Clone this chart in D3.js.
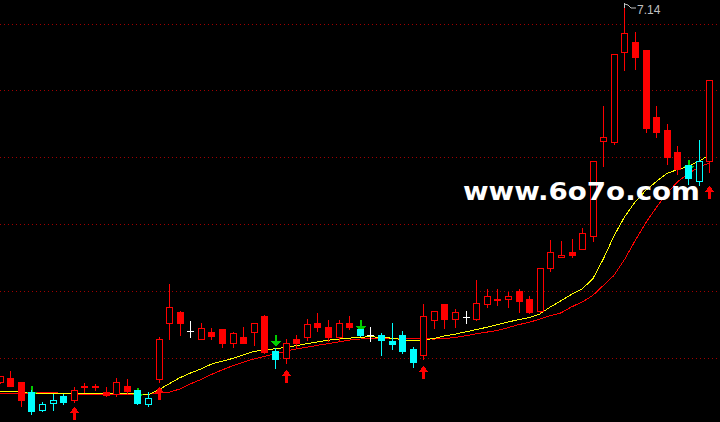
<!DOCTYPE html>
<html><head><meta charset="utf-8">
<script src="https://cdn.jsdelivr.net/npm/d3@7"></script>
<style>html,body{margin:0;padding:0;background:#000;overflow:hidden}</style>
</head><body><svg id="c" width="720" height="422"></svg>
<script>
// ---- data (prices) ----
const open  = [4.32,4.35,4.32,4.24,4.11,4.16,4.21,4.18,4.29,4.29, 4.24,4.23,4.29,4.26,4.15,4.34,4.76,4.84,4.70,4.64, 4.69,4.71,4.61,4.65,4.69,4.81,4.55,4.50,4.64,4.65, 4.76,4.73,4.65,4.76,4.71,4.67,4.67,4.62,4.67,4.56, 4.52,4.78,4.90,4.79,4.80,4.79,4.90,4.94,4.94,5.00, 4.94,4.85,5.17,5.25,5.29,5.31,5.41,6.12,6.11,6.79, 6.86,6.80,6.30,6.20,6.04,5.94,5.82,5.97];
const high  = [4.36,4.40,4.32,4.26,4.17,4.23,4.23,4.28,4.31,4.30, 4.28,4.35,4.34,4.26,4.24,4.65,5.05,4.85,4.77,4.76, 4.72,4.71,4.69,4.73,4.76,4.82,4.57,4.64,4.67,4.79, 4.83,4.78,4.78,4.81,4.71,4.73,4.68,4.76,4.70,4.58, 4.90,4.85,4.90,4.86,4.85,5.08,5.01,5.01,4.99,5.01, 4.96,5.17,5.38,5.37,5.39,5.47,5.97,6.38,6.77,7.14, 6.94,6.80,6.38,6.25,6.08,5.94,6.13,6.58];
const low   = [4.31,4.29,4.14,4.08,4.10,4.11,4.15,4.17,4.24,4.26, 4.21,4.21,4.23,4.15,4.14,4.32,4.64,4.67,4.65,4.64, 4.64,4.58,4.58,4.61,4.59,4.53,4.42,4.46,4.57,4.63, 4.70,4.62,4.62,4.71,4.66,4.62,4.52,4.56,4.53,4.43, 4.49,4.72,4.72,4.73,4.76,4.78,4.88,4.89,4.88,4.84, 4.83,4.84,5.15,5.25,5.25,5.31,5.37,5.93,6.10,6.65, 6.66,6.19,6.15,5.95,5.87,5.80,5.79,5.89];
const close = [4.36,4.29,4.18,4.10,4.15,4.18,4.17,4.26,4.28,4.28, 4.22,4.32,4.25,4.16,4.20,4.64,4.88,4.76,4.70,4.72, 4.66,4.61,4.68,4.61,4.76,4.54,4.49,4.61,4.61,4.75, 4.73,4.65,4.76,4.73,4.67,4.67,4.63,4.60,4.55,4.47, 4.81,4.85,4.79,4.84,4.80,4.91,4.96,4.93,4.96,4.92, 4.84,5.17,5.29,5.27,5.27,5.43,5.97,6.15,6.77,6.93, 6.75,6.22,6.19,6.00,5.91,5.84,5.97,6.58];
// candle colour code: r = red, c = cyan, w = white
const candleColor = ["r","r","r","c","c","c","c","r","r","r", "r","r","r","c","c","r","r","r","w","r", "r","r","r","r","r","r","c","r","r","r", "r","r","r","r","c","w","c","c","c","c", "r","r","r","r","w","r","r","r","r","r", "r","r","r","r","r","r","r","r","r","r", "r","r","r","r","r","c","c","r"];
const maShort = [4.244,4.244,4.242,4.234,4.232,4.227,4.227,4.227,4.227,4.229, 4.232,4.232,4.232,4.227,4.219,4.257,4.303,4.348,4.383,4.414, 4.451,4.472,4.493,4.519,4.545,4.556,4.565,4.575,4.589,4.603, 4.616,4.629,4.638,4.645,4.651,4.656,4.650,4.645,4.634,4.624, 4.631,4.642,4.661,4.675,4.692,4.709,4.726,4.745,4.765,4.784, 4.798,4.826,4.878,4.925,4.972,5.013,5.088,5.237,5.409,5.552, 5.664,5.750,5.817,5.877,5.907,5.930,5.967,6.016];
const maLong  = [4.227,4.227,4.227,4.234,4.237,4.237,4.231,4.225,4.225,4.225, 4.225,4.225,4.225,4.225,4.225,4.234,4.240,4.264,4.302,4.335, 4.373,4.407,4.438,4.465,4.489,4.509,4.526,4.547,4.564,4.577, 4.591,4.604,4.617,4.630,4.638,4.644,4.644,4.644,4.644,4.643, 4.640,4.638,4.642,4.650,4.663,4.677,4.690,4.703,4.723,4.746, 4.763,4.788,4.813,4.834,4.879,4.915,4.964,5.039,5.114,5.233, 5.374,5.507,5.622,5.728,5.814,5.876,5.924,5.956];
const upArrowIdx    = [7,15,27,40,67];
const upArrowPrice  = [4.13,4.28,4.41,4.44,5.78];
const downArrowIdx   = [3,13,26,34,65];
const downArrowPrice = [4.29,4.27,4.67,4.78,5.98];
const gridTicks = [4.5,5.0,5.5,6.0,6.5,7.0];
const watermark = "www.6o7o.com";

// ---- drawing ----
const W = 720, H = 422;
const colorMap = {r:"#ff0000", c:"#00ffff", w:"#ffffff"};
const svg = d3.select("#c");
svg.append("rect").attr("width", W).attr("height", H).attr("fill", "#000");

const idx = d3.range(open.length);
const x = d3.scaleBand().domain(idx).range([-5.6, 714.5]).padding(0);
const cx = i => Math.round(x(i) + x.bandwidth() / 2);
const y = d3.scaleLinear().domain([4.5, 7.0]).range([357.5, 23.5]);
const ry = v => Math.round(y(v));

// grid
svg.append("g").selectAll("line").data(gridTicks).join("line")
  .attr("x1", 0).attr("x2", W)
  .attr("y1", d => ry(d) + 0.5).attr("y2", d => ry(d) + 0.5)
  .attr("stroke", "#a00000").attr("stroke-width", 1)
  .attr("stroke-dasharray", "1,3").attr("shape-rendering", "crispEdges");

// moving averages
const line = d3.line().x((d, i) => x(i) + x.bandwidth() / 2).y(d => y(d));
svg.append("path").datum(maLong).attr("d", line).attr("fill", "none")
  .attr("stroke", "#ff0000").attr("stroke-width", 1).attr("shape-rendering", "crispEdges");
svg.append("path").datum(maShort).attr("d", line).attr("fill", "none")
  .attr("stroke", "#ffff00").attr("stroke-width", 1).attr("shape-rendering", "crispEdges");

// green down arrows (under candles)
const gDown = svg.append("g").attr("fill", "#00cc00").attr("shape-rendering", "crispEdges");
downArrowIdx.forEach((i, k) => {
  const c = cx(i), s = ry(downArrowPrice[k]);
  gDown.append("rect").attr("x", c).attr("y", s).attr("width", 2).attr("height", 6);
  gDown.append("path").attr("d", `M${c-4},${s+6}L${c+6},${s+6}L${c+1},${s+12}Z`);
});

// candles
const gC = svg.append("g").attr("shape-rendering", "crispEdges");
idx.forEach(i => {
  const col = colorMap[candleColor[i]];
  const c = cx(i);
  const o = open[i], cl = close[i];
  gC.append("line").attr("x1", c + 0.5).attr("x2", c + 0.5)
    .attr("y1", ry(high[i])).attr("y2", ry(low[i]) + 1)
    .attr("stroke", col).attr("stroke-width", 1);
  if (o === cl) {
    gC.append("line").attr("x1", c - 3).attr("x2", c + 4)
      .attr("y1", ry(o) + 0.5).attr("y2", ry(o) + 0.5)
      .attr("stroke", col).attr("stroke-width", 1);
  } else if (cl > o) {
    const t = ry(cl), b = ry(o);
    gC.append("rect").attr("x", c - 2.5).attr("y", t + 0.5)
      .attr("width", 6).attr("height", Math.max(1, b - t))
      .attr("fill", "#000").attr("stroke", col).attr("stroke-width", 1);
  } else {
    const t = ry(o), b = ry(cl);
    gC.append("rect").attr("x", c - 3).attr("y", t)
      .attr("width", 7).attr("height", Math.max(1, b - t + 1))
      .attr("fill", col);
  }
});

// red up arrows
const gUp = svg.append("g").attr("fill", "#ff0000").attr("shape-rendering", "crispEdges");
upArrowIdx.forEach((i, k) => {
  const c = cx(i), t = ry(upArrowPrice[k]);
  gUp.append("path").attr("d", `M${c+0.5},${t}L${c+5.5},${t+6}L${c-4.5},${t+6}Z`);
  gUp.append("rect").attr("x", c - 1).attr("y", t + 6).attr("width", 3).attr("height", 7);
});

// max price label
const maxI = d3.maxIndex(high);
const mx = cx(maxI), my = ry(high[maxI]);
svg.append("path")
  .attr("d", `M${mx+0.5},${my-2}L${mx+0.5},${my+3}M${mx+0.5},${my-1}L${mx+4},${my}L${mx+7},${my+3}L${mx+12},${my+3}`)
  .attr("fill", "none").attr("stroke", "#c0c0c0").attr("stroke-width", 1);
svg.append("text").attr("x", mx + 13).attr("y", my + 9)
  .attr("fill", "#c0c0c0").attr("font-family", "Liberation Sans, Arial, sans-serif")
  .attr("font-size", 12).text(d3.max(high).toFixed(2));

// watermark
svg.append("text").attr("x", 463).attr("y", 199.5)
  .attr("fill", "#ffffff").attr("font-family", "DejaVu Sans, Verdana, sans-serif")
  .attr("font-weight", "bold").attr("font-size", 25)
  .attr("textLength", 237).attr("lengthAdjust", "spacingAndGlyphs")
  .text(watermark);
</script>
</body></html>
